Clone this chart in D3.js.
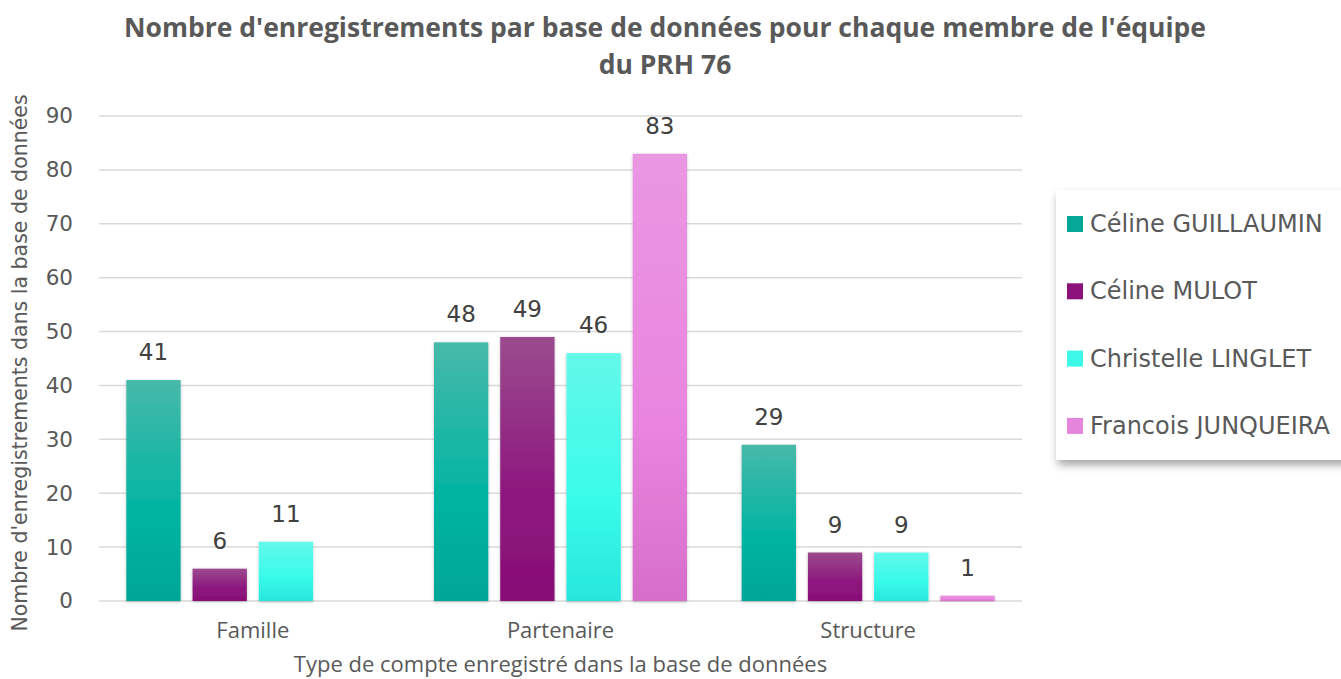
<!DOCTYPE html>
<html>
<head>
<meta charset="utf-8">
<script src="https://cdn.jsdelivr.net/npm/d3@7"></script>
<style>
    body { margin: 0; background: #fff; }
    svg { display: block; }
</style>
</head>
<body>
<svg id="chart" width="1341" height="679"></svg>
<script>
const categories = ["Famille", "Partenaire", "Structure"];
const seriesNames = ["Céline GUILLAUMIN", "Céline MULOT", "Christelle LINGLET", "Francois JUNQUEIRA"];
const guillaumin = [41, 48, 29];
const mulot = [6, 49, 9];
const linglet = [11, 46, 9];
const junqueira = [null, 83, 1];
const yTicks = [0, 10, 20, 30, 40, 50, 60, 70, 80, 90];

// top / middle / bottom gradient stops per series
const colors = [
    ["#47b9aa", "#00b4a2", "#00a697"],
    ["#9b4b8e", "#8d177e", "#880e76"],
    ["#63f8ea", "#38fbe9", "#28e6dc"],
    ["#ea97e2", "#e985df", "#d66ec9"]
];
const swatch = ["#05a898", "#8a127a", "#3ef8ea", "#e486dc"];

const allSeries = [guillaumin, mulot, linglet, junqueira];
const svg = d3.select("#chart");
const margin = {top: 116, right: 319, bottom: 78, left: 99};
const width = 1341 - margin.left - margin.right;
const height = 679 - margin.top - margin.bottom;
const font = "'DejaVu Sans', sans-serif";
const font2 = "'Open Sans', sans-serif";

const defs = svg.append("defs");
colors.forEach(function (c, i) {
    const g = defs.append("linearGradient")
        .attr("id", "grad" + i)
        .attr("x1", 0).attr("y1", 0).attr("x2", 0).attr("y2", 1);
    g.append("stop").attr("offset", "0%").attr("stop-color", c[0]);
    g.append("stop").attr("offset", "60%").attr("stop-color", c[1]);
    g.append("stop").attr("offset", "100%").attr("stop-color", c[2]);
});
const shadow = defs.append("filter").attr("id", "shadow")
    .attr("x", "-20%").attr("y", "-5%").attr("width", "140%").attr("height", "110%");
shadow.append("feDropShadow").attr("dx", 0).attr("dy", 1).attr("stdDeviation", 1.5)
    .attr("flood-color", "#000").attr("flood-opacity", 0.25);
const legendShadow = defs.append("filter").attr("id", "lshadow")
    .attr("x", "-10%").attr("y", "-10%").attr("width", "130%").attr("height", "130%");
legendShadow.append("feDropShadow").attr("dx", 2).attr("dy", 5).attr("stdDeviation", 4)
    .attr("flood-color", "#000").attr("flood-opacity", 0.35);

const g = svg.append("g").attr("transform", "translate(" + margin.left + "," + margin.top + ")");

const x0 = d3.scaleBand().domain(categories).range([0, width]).paddingInner(0).paddingOuter(0);
const x1 = d3.scaleBand().domain(d3.range(seriesNames.length))
    .range([26, x0.bandwidth() - 26]).paddingInner(0.18).paddingOuter(0.02);
const y = d3.scaleLinear().domain([0, 90]).range([height, 0]);

// gridlines
g.append("g")
    .selectAll("line")
    .data(yTicks)
    .join("line")
    .attr("x1", 0).attr("x2", width)
    .attr("y1", d => y(d)).attr("y2", d => y(d))
    .attr("stroke", "#d9d9d9").attr("stroke-width", 1.5);

// y axis labels
const yAxis = g.append("g")
    .call(d3.axisLeft(y).tickValues(yTicks).tickSize(0).tickPadding(26));
yAxis.select(".domain").remove();
yAxis.selectAll("text")
    .attr("font-family", font)
    .attr("font-size", 21.5)
    .attr("fill", "#595959");

// bars
const groups = g.append("g").selectAll("g")
    .data(categories)
    .join("g")
    .attr("transform", d => "translate(" + x0(d) + ",0)");

groups.each(function (cat, ci) {
    const grp = d3.select(this);
    allSeries.forEach(function (vals, si) {
        const v = vals[ci];
        if (v == null) return;
        grp.append("rect")
            .attr("x", x1(si))
            .attr("y", y(v))
            .attr("width", x1.bandwidth())
            .attr("height", y(0) - y(v))
            .attr("fill", "url(#grad" + si + ")")
            .attr("filter", "url(#shadow)");
        grp.append("text")
            .attr("x", x1(si) + x1.bandwidth() / 2)
            .attr("y", y(v) - 20)
            .attr("text-anchor", "middle")
            .attr("font-family", font)
            .attr("font-size", 23)
            .attr("fill", "#404040")
            .text(v);
    });
});

// x axis labels
const xAxis = g.append("g")
    .attr("transform", "translate(0," + height + ")")
    .call(d3.axisBottom(x0).tickSize(0).tickPadding(21));
xAxis.select(".domain").remove();
xAxis.selectAll("text")
    .attr("font-family", font2)
    .attr("font-size", 22)
    .attr("fill", "#595959");

// axis titles
svg.append("text")
    .attr("x", margin.left + width / 2)
    .attr("y", 672)
    .attr("text-anchor", "middle")
    .attr("font-family", font2)
    .attr("font-size", 22)
    .attr("fill", "#595959")
    .text("Type de compte enregistré dans la base de données");

svg.append("text")
    .attr("transform", "translate(27,363) rotate(-90)")
    .attr("text-anchor", "middle")
    .attr("font-family", font)
    .attr("font-size", 20.5)
    .attr("fill", "#595959")
    .text("Nombre d'enregistrements dans la base de données");

// title
const title = svg.append("text")
    .attr("text-anchor", "middle")
    .attr("font-family", font2)
    .attr("font-weight", "bold")
    .attr("font-size", 26.5)
    .attr("fill", "#595959");
title.append("tspan").attr("x", 665).attr("y", 37).text("Nombre d'enregistrements par base de données pour chaque membre de l'équipe");
title.append("tspan").attr("x", 665).attr("y", 74).text("du PRH 76");

// legend
const legend = svg.append("g").attr("transform", "translate(1056,190)");
legend.append("rect")
    .attr("width", 300).attr("height", 270)
    .attr("fill", "#fff")
    .attr("filter", "url(#lshadow)");
const items = legend.selectAll("g.item")
    .data(seriesNames)
    .join("g")
    .attr("class", "item")
    .attr("transform", (d, i) => "translate(11," + (32 + i * 67.3) + ")");
items.append("rect")
    .attr("x", 0).attr("y", -6)
    .attr("width", 16).attr("height", 16)
    .attr("fill", (d, i) => swatch[i]);
items.append("text")
    .attr("x", 23).attr("y", 10)
    .attr("font-family", font)
    .attr("font-size", 24)
    .attr("fill", "#595959")
    .text(d => d);
</script>
</body>
</html>
